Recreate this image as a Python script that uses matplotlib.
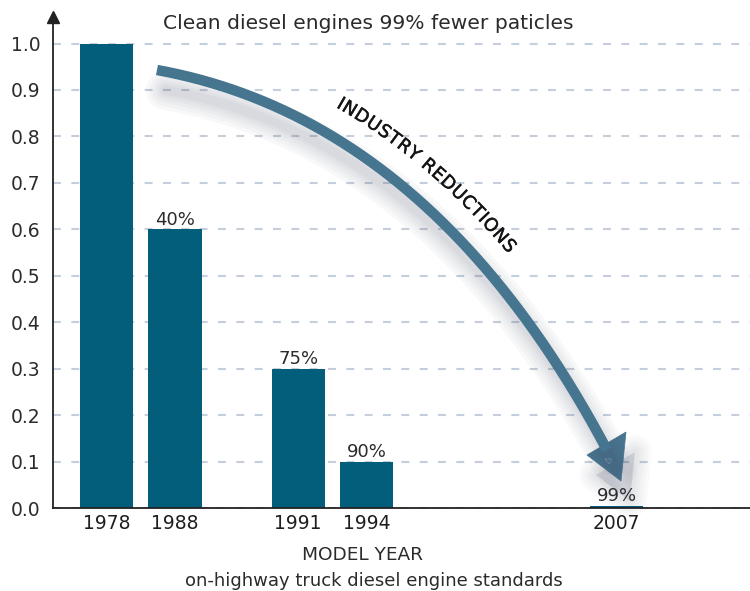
import numpy as np
import matplotlib.pyplot as plt
from matplotlib.patches import Polygon
from matplotlib.textpath import text_to_path
from matplotlib.font_manager import FontProperties
import matplotlib.patheffects as pe

# data
years = ['1978', '1988', '1991', '1994', '2007']
pm_level = [1.0, 0.6, 0.3, 0.1, 0.005]
reduction = ['', '40%', '75%', '90%', '99%']
slots = [0, 1, 2.8, 3.8, 7.45]   # spacing of bars along the axis

W, H = 750, 591
bar_col = '#035e7b'
arrow_col = '#467590'
txt_col = '#2b2b2b'
plt.rcParams['font.family'] = 'DejaVu Sans'

fig = plt.figure(figsize=(W / 100, H / 100), dpi=100)
ax = fig.add_axes([53 / W, 83 / H, 697 / W, 491 / H])

ax.bar(slots, pm_level, width=0.78, color=bar_col, zorder=2)
for x, v, lab in zip(slots, pm_level, reduction):
    if lab:
        ax.annotate(lab, (x, v), xytext=(0, 0.5), textcoords='offset points',
                    ha='center', va='bottom', fontsize=13, color=txt_col)

ax.set_xlim(-0.78, -0.78 + 697 / 68.5)
ax.set_ylim(0, 491 / 464.5)
ax.set_xticks(slots, years, fontsize=13.5, color='#1e1e1e')
yt = np.round(np.arange(0, 1.01, 0.1), 1)
ax.set_yticks(yt, [f'{v:.1f}' for v in yt], fontsize=13.5, color=txt_col)
ax.tick_params(length=0)
ax.tick_params(axis='y', pad=9)
ax.tick_params(axis='x', pad=4)
ax.yaxis.grid(True, color='#c5cfdb', lw=1.5, linestyle=(0, (3.8, 5)))
ax.set_axisbelow(True)
for s in ['top', 'right']:
    ax.spines[s].set_visible(False)
for s in ['left', 'bottom']:
    ax.spines[s].set_color('#222222')
    ax.spines[s].set_linewidth(1.3)
ax.plot(0, 1, marker='^', ms=8, color='#222222', transform=ax.transAxes,
        clip_on=False, zorder=5)

fig.text(368 / W, 1 - 29 / H, 'Clean diesel engines 99% fewer paticles',
         ha='center', va='baseline', fontsize=14.6, color=txt_col)
fig.text(362 / W, 1 - 560 / H, 'MODEL YEAR', ha='center', va='baseline',
         fontsize=13.3, color=txt_col)
fig.text(374 / W, 1 - 586 / H, 'on-highway truck diesel engine standards',
         ha='center', va='baseline', fontsize=13, color=txt_col)

# overlay in pixel coords for the curved arrow
ov = fig.add_axes([0, 0, 1, 1])
ov.set_xlim(0, W)
ov.set_ylim(H, 0)
ov.axis('off')

P0, P1, P2 = np.array([157, 70]), np.array([432, 120]), np.array([607, 450])
t = np.linspace(0, 1, 400)[:, None]
curve = (1 - t) ** 2 * P0 + 2 * (1 - t) * t * P1 + t ** 2 * P2
head = np.array([[587, 455], [626, 432], [621, 481]])

# soft shadow
off = np.array([9, 20])
for w in [40, 33, 26, 20, 14, 9]:
    ov.plot(curve[:, 0] + off[0], curve[:, 1] + off[1], color='#4a5068',
            lw=w * 0.72, alpha=0.035, solid_capstyle='round')
    ov.add_patch(Polygon(head + off, closed=True, fc='#4a5068', ec='#4a5068',
                         lw=w * 0.6, alpha=0.025, joinstyle='round'))

ov.plot(curve[:, 0], curve[:, 1], color=arrow_col, lw=7.5, solid_capstyle='butt')
ov.add_patch(Polygon(head, closed=True, fc=arrow_col, ec=arrow_col, lw=0.5))
ov.text(606, 459, '\u25c1', fontsize=6, color='#8fa8bb', ha='center', va='center',
        rotation=-25)

# label set along the curve
tang = np.gradient(curve, axis=0)
tang /= np.linalg.norm(tang, axis=1)[:, None]
norm = np.column_stack([tang[:, 1], -tang[:, 0]])
base = curve + 27 * norm
seg = np.linalg.norm(np.diff(base, axis=0), axis=1)
s = np.concatenate([[0], np.cumsum(seg)])
ang = -np.degrees(np.arctan2(tang[:, 1], tang[:, 0]))

label = 'INDUSTRY REDUCTIONS'
fp = FontProperties(family='DejaVu Sans', size=13)
widths = []
for ch in label:
    wpt = text_to_path.get_text_width_height_descent(ch, fp, ismath=False)[0]
    widths.append(wpt * 100 / 72 + 0.6)
total = sum(widths)
i_mid = np.argmin(np.abs(t[:, 0] - 0.51))
pos = s[i_mid] - total / 2
for ch, wch in zip(label, widths):
    c = pos + wch / 2
    x = np.interp(c, s, base[:, 0])
    y = np.interp(c, s, base[:, 1])
    a = np.interp(c, s, ang)
    ov.text(x, y, ch, fontproperties=fp, color='#151515', rotation=a,
            rotation_mode='anchor', ha='center', va='baseline',
            path_effects=[pe.withStroke(linewidth=0.35, foreground='#151515')])
    pos += wch

fig.savefig('out.png', dpi=100)
